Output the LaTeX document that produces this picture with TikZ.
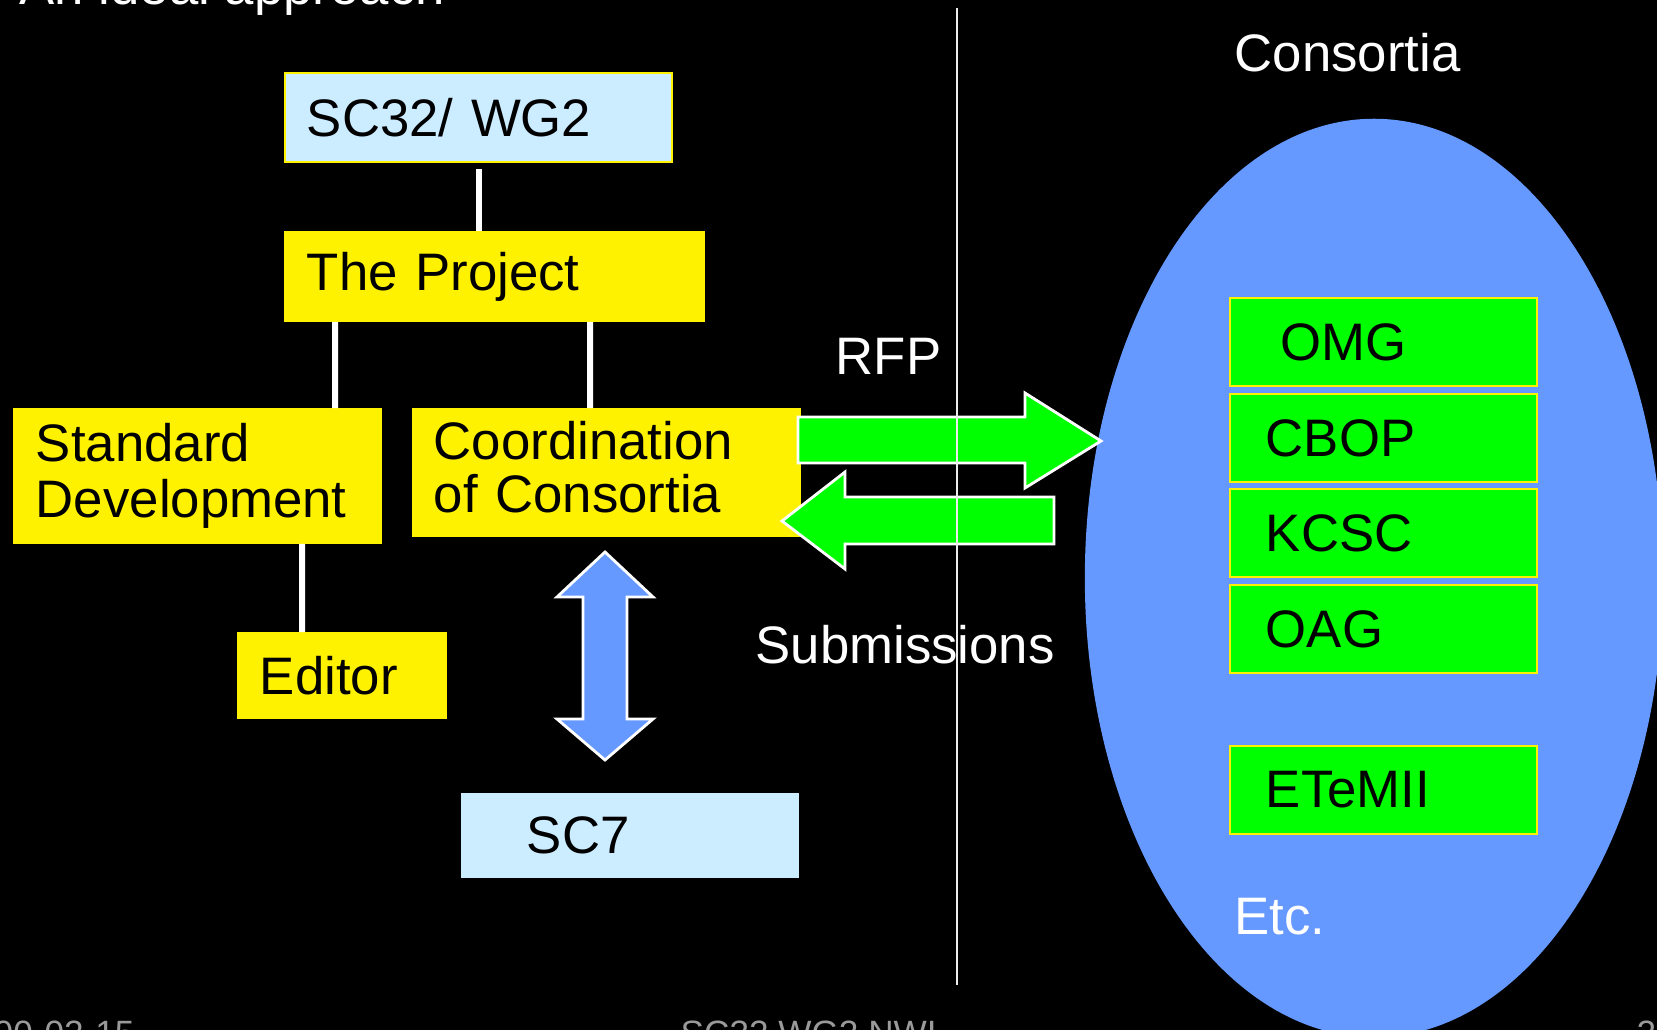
\documentclass[tikz,border=0pt]{standalone}
\usepackage{fontspec}
\setmainfont{Liberation Sans}
\usetikzlibrary{shapes.geometric}

\definecolor{paleblue}{HTML}{CCECFF}
\definecolor{skyblue}{HTML}{6699FF}
\definecolor{footgray}{HTML}{9A9A9A}

\tikzset{
  box/.style={rectangle, anchor=north west, align=left, inner ysep=0pt,
    draw=yellow, line width=0.5pt, text=black, font=\fontsize{15}{16}\selectfont},
  ybox/.style={box, fill=yellow},
  bbox/.style={box, fill=paleblue},
  gbox/.style={box, fill=green, minimum height=0.88cm, text width=2.35cm, inner xsep=0.36cm},
  link/.style={draw=white, line width=1.7pt},
  fat/.style={draw=white, line width=0.8pt, line join=miter},
  wtext/.style={text=white, inner sep=0pt, font=\fontsize{15}{16}\selectfont},
  foot/.style={text=footgray, inner sep=0pt, font=\fontsize{10}{12}\selectfont}
}

\begin{document}
\begin{tikzpicture}[x=0.01cm, y=-0.01cm]

  \useasboundingbox (0,0) rectangle (1657,1030);
  \fill[black] (0,0) rectangle (1657,1030);

  % left side: the project tree
  \node[bbox, text width=3.43cm, inner xsep=0.22cm, minimum height=0.89cm] (sc32) at (284,72) {SC32/ WG2};
  \node[ybox, text width=3.75cm, inner xsep=0.22cm, minimum height=0.89cm] (proj) at (284,231) {The Project\vphantom{g}};
  \node[ybox, text width=3.23cm, inner xsep=0.22cm, minimum height=1.34cm] (sd) at (13,408) {Standard\\Development};
  \node[ybox, text width=3.45cm, inner xsep=0.21cm, minimum height=1.27cm,
    font=\fontsize{15}{15}\selectfont] (coord) at (412,408) {Coordination\\of Consortia\vphantom{g}};
  \node[ybox, text width=1.64cm, inner xsep=0.22cm, minimum height=0.85cm] (editor) at (237,632) {Editor};
  \node[bbox, draw=paleblue, text width=2.06cm, inner xsep=0.65cm, minimum height=0.83cm] (sc7) at (461,793) {SC7};

  \draw[link] ([xshift=1.95cm,yshift=-0.06cm]sc32.south west) -- ([xshift=1.95cm]proj.north west);
  \draw[link] ([xshift=0.51cm]proj.south west) -- ([xshift=3.22cm]sd.north west);
  \draw[link] ([xshift=3.06cm]proj.south west) -- ([xshift=1.78cm]coord.north west);
  \draw[link] ([xshift=2.89cm]sd.south west) -- ([xshift=0.65cm]editor.north west);

  % coordination <-> SC7
  \filldraw[fat, fill=skyblue] (605,552) -- (653,597) -- (627,597) -- (627,719) -- (653,719)
    -- (605,760) -- (557,719) -- (583,719) -- (583,597) -- (557,597) -- cycle;

  % right side: the consortia
  \node[ellipse, fill=skyblue, minimum width=5.78cm, minimum height=9.18cm, inner sep=0pt] (cloud) at (1374,578) {};
  \node[wtext, anchor=west] (consortia) at (1234,53) {Consortia};

  \node[gbox] (omg)  at (1229,297) {\hspace*{4.2pt}OMG};
  \node[gbox] (cbop) at (1229,393) {CBOP};
  \node[gbox] (kcsc) at (1229,488) {KCSC};
  \node[gbox] (oag)  at (1229,584) {OAG};
  \node[gbox] (etem) at (1229,745) {ETeMII};
  \node[wtext, anchor=west] (etc) at (1234,917) {Etc.};

  % RFP and submissions
  \filldraw[fat, fill=green] (798,417) -- (1025,417) -- (1025,393) -- (1101,441)
    -- (1025,488) -- (1025,463) -- (798,463) -- cycle;
  \filldraw[fat, fill=green] (1054,497) -- (845,497) -- (845,472) -- (782,521)
    -- (845,569) -- (845,544) -- (1054,544) -- cycle;
  \node[wtext, anchor=west] (rfp) at (835,356) {RFP};
  \node[wtext, anchor=west] (subm) at (755,645) {Submissions};

  \draw[white!85!gray, line width=0.5pt] (957,8) -- (957,985);

  % title and footer
  \node[wtext, anchor=base west] (title) at (19,4) {An ideal approach};
  \node[foot, anchor=north west] (date) at (-7,1020) {00-02-15};
  \node[foot, anchor=north west] (wg) at (680,1020) {SC32 WG2 NWI};
  \node[foot, anchor=north west] (page) at (1636,1020) {2};

\end{tikzpicture}
\end{document}
